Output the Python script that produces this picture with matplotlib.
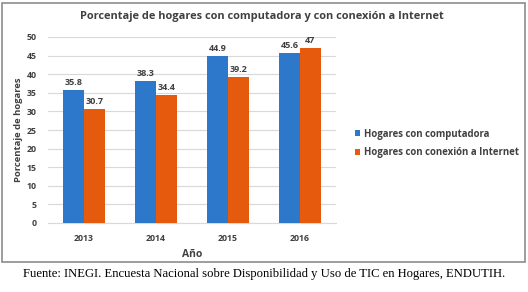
import matplotlib
matplotlib.use("Agg")
import matplotlib.pyplot as plt
from matplotlib.patches import Rectangle
import numpy as np

years = ["2013", "2014", "2015", "2016"]
computadora = [35.8, 38.3, 44.9, 45.6]
internet = [30.7, 34.4, 39.2, 47]
series_names = ["Hogares con computadora", "Hogares con conexión a Internet"]
yticks = [0, 5, 10, 15, 20, 25, 30, 35, 40, 45, 50]

blue = "#2E78CC"
orange = "#E65A0E"
txt = "#404040"
plt.rcParams["font.family"] = ["Open Sans", "DejaVu Sans"]
plt.rcParams["font.weight"] = "bold"

W, H = 528, 292
fig = plt.figure(figsize=(W / 100, H / 100), dpi=100)
fig.patch.set_facecolor("white")

# chart border
fig.add_artist(Rectangle((2 / W, 1 - 262 / H), 523 / W, 259 / H, transform=fig.transFigure,
                         fill=False, edgecolor="#8c8c8c", linewidth=1.2))

ax = fig.add_axes([48 / W, 1 - 223 / H, 288 / W, 186 / H])
x = np.arange(len(years))
bw = 0.29
b1 = ax.bar(x - bw / 2, computadora, bw, color=blue, label=series_names[0], zorder=3)
b2 = ax.bar(x + bw / 2, internet, bw, color=orange, label=series_names[1], zorder=3)

for bars, vals in ((b1, computadora), (b2, internet)):
    for r, v in zip(bars, vals):
        ax.text(r.get_x() + r.get_width() / 2, v + 0.8, "%g" % v, ha="center", va="bottom",
                fontsize=6.5, fontweight="bold", color=txt)

ax.set_xlim(-0.5, 3.5)
ax.set_ylim(0, 50)
ax.set_yticks(yticks)
ax.set_xticks(x)
ax.set_xticklabels(years)
ax.grid(axis="y", color="#d9d9d9", linewidth=0.8, zorder=0)
for s in ax.spines.values():
    s.set_visible(False)
ax.spines["bottom"].set_visible(True)
ax.spines["bottom"].set_color("#d9d9d9")
ax.tick_params(length=0, labelsize=6.3, labelcolor=txt)
ax.tick_params(axis="x", pad=8)
ax.tick_params(axis="y", pad=8)
for t in ax.get_xticklabels() + ax.get_yticklabels():
    t.set_fontweight("bold")

ax.set_ylabel("Porcentaje de hogares", fontsize=6.8, fontweight="bold", color=txt)
ax.yaxis.set_label_coords(-25 / 288, 0.5)
ax.set_xlabel("Año", fontsize=7.5, fontweight="bold", color=txt, labelpad=4)

fig.text(262 / W, 1 - 17 / H, "Porcentaje de hogares con computadora y con conexión a Internet",
         ha="center", va="center", fontsize=7.9, fontweight="bold", color=txt)

leg = fig.legend(handles=[b1, b2], loc="upper left", bbox_to_anchor=(346 / W, 1 - 120 / H),
                 frameon=False, handlelength=0.6, handleheight=0.6,
                 handletextpad=0.4, labelspacing=0.8, prop={"weight": "bold", "size": 6.9})
for t in leg.get_texts():
    t.set_color(txt)

fig.text(264 / W, 1 - 274 / H,
         "Fuente: INEGI. Encuesta Nacional sobre Disponibilidad y Uso de TIC en Hogares, ENDUTIH.",
         ha="center", va="center", fontsize=9.1, family="Liberation Serif", fontweight="normal",
         color="black")

fig.savefig("out.png", dpi=100, facecolor="white")
